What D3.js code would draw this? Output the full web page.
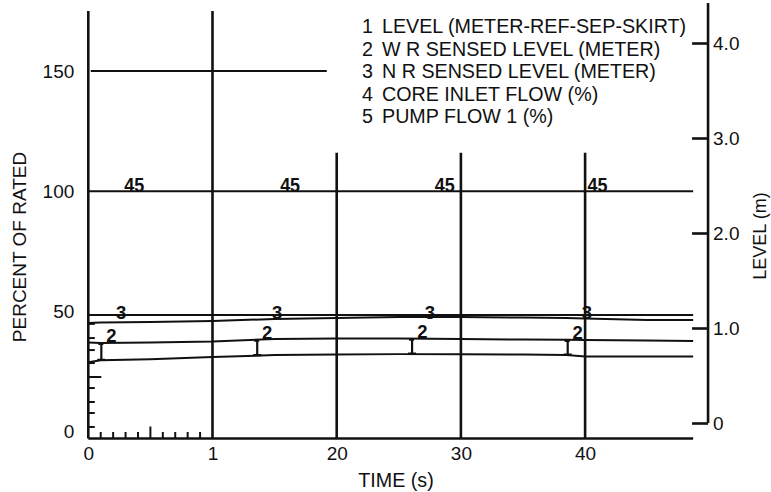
<!DOCTYPE html>
<html><head><meta charset="utf-8">
<script src="https://cdn.jsdelivr.net/npm/d3@7"></script>
<style>
body{margin:0;background:#fff}
svg text{font-family:"Liberation Sans",Arial,Helvetica,sans-serif}
</style>
</head><body>
<svg id="c" width="771" height="492"></svg>
<script>
// ---- data ----
const time = [0, 1, 5, 10, 15, 20, 25, 30, 35, 38.5, 40, 45, 48.7];
// level traces (m, right axis)
const level1 = [0.64, 0.66, 0.67, 0.695, 0.715, 0.72, 0.725, 0.725, 0.72, 0.715, 0.70, 0.70, 0.70];
const level2 = [0.847, 0.842, 0.847, 0.858, 0.884, 0.889, 0.889, 0.884, 0.879, 0.876, 0.874, 0.868, 0.863];
const level3 = [1.137, 1.137, 1.137, 1.137, 1.137, 1.137, 1.137, 1.137, 1.137, 1.137, 1.137, 1.137, 1.137];
const levelX = [1.053, 1.058, 1.063, 1.074, 1.095, 1.105, 1.116, 1.116, 1.11, 1.105, 1.10, 1.084, 1.084];
// flow traces (% of rated, left axis)
const flowTime = [0, 48.7];
const flow45 = [100, 100];
const highTime = [0.2, 19.2];
const high150 = [150, 150];
// label positions (s)
const mark1Times = [1.05, 13.6, 26.07, 38.6];
const mark2Times = [1.85, 14.4, 26.9, 39.4];
const mark3Times = [2.65, 15.2, 27.5, 40.15];
const mark45Times = [3.7, 16.25, 28.7, 41.0];
// axes
const xTicks = [0, 10, 20, 30, 40];
const xTickLabels = ["0", "1", "20", "30", "40"];
const leftTicks = [0, 50, 100, 150];
const rightTicks = [0, 1, 2, 3, 4];
const minorTimeTicks = [1, 2, 3, 4, 5, 6, 7, 8, 9];
const minorPctTicks = [1.9, 7.7, 12.3, 18.1, 22.7, 28.5, 33.9, 38.9, 44.8];
const gridTimes = [10, 20, 30, 40];
const gridTops = [175, 116, 116, 116];
const legendNums = ["1", "2", "3", "4", "5"];
const legendLabels = ["LEVEL (METER-REF-SEP-SKIRT)", "W R SENSED LEVEL (METER)", "N R SENSED LEVEL (METER)", "CORE INLET FLOW (%)", "PUMP FLOW 1 (%)"];

// ---- scales ----
const svg = d3.select("#c");
const x = d3.scaleLinear([0, 50], [88.3, 709.3]);
const yL = d3.scaleLinear([-2.9, 175], [438.5, 11]);
const yR = d3.scaleLinear([0, 4], [423, 43]);
const xEnd = 48.7, xRight = 49.9, rightTop = 4.42;

const ink = "#111";
// vertical grid lines
svg.append("g").selectAll("line").data(gridTimes).join("line")
  .attr("x1", d => x(d)).attr("x2", d => x(d))
  .attr("y1", (d, i) => yL(gridTops[i])).attr("y2", yL(-2.9))
  .attr("stroke", ink).attr("stroke-width", 2.6);

// left axis line
svg.append("line").attr("x1", x(0)).attr("x2", x(0)).attr("y1", yL(175)).attr("y2", yL(-2.9))
  .attr("stroke", ink).attr("stroke-width", 2.6);
// bottom axis line
svg.append("line").attr("x1", x(0)).attr("x2", x(xEnd)).attr("y1", yL(-2.9)).attr("y2", yL(-2.9))
  .attr("stroke", ink).attr("stroke-width", 2.6);
// right axis line
svg.append("line").attr("x1", x(xRight)).attr("x2", x(xRight)).attr("y1", yR(rightTop)).attr("y2", yR(0))
  .attr("stroke", ink).attr("stroke-width", 2.6);

// minor ticks
svg.append("g").selectAll("line").data(minorTimeTicks).join("line")
  .attr("x1", d => x(d)).attr("x2", d => x(d))
  .attr("y1", yL(-2.9)).attr("y2", d => yL(-2.9) - (d === 5 ? 12 : 6.5))
  .attr("stroke", ink).attr("stroke-width", 2);
svg.append("g").selectAll("line").data(minorPctTicks).join("line")
  .attr("y1", d => yL(d)).attr("y2", d => yL(d))
  .attr("x1", x(0)).attr("x2", (d) => x(0) + (d === 22.7 ? 13 : 6.5))
  .attr("stroke", ink).attr("stroke-width", 2);

// axes labels via d3 axes
const fs = 19;
const gL = svg.append("g").attr("transform", `translate(${x(0)},0)`)
  .call(d3.axisLeft(yL).tickValues(leftTicks).tickSize(0).tickPadding(14));
const gB = svg.append("g").attr("transform", `translate(0,${yL(-2.9)})`)
  .call(d3.axisBottom(x).tickValues(xTicks).tickFormat((d, i) => xTickLabels[i]).tickSize(0).tickPadding(8));
const gR = svg.append("g").attr("transform", `translate(${x(xRight)},0)`)
  .call(d3.axisRight(yR).tickValues(rightTicks).tickFormat(d => d === 0 ? "0" : d3.format(".1f")(d)).tickSize(-16).tickPadding(5));
[gL, gB, gR].forEach(g => {
  g.select(".domain").remove();
  g.attr("font-size", fs).attr("font-family", '"Liberation Sans",Arial,sans-serif');
  g.selectAll("text").attr("fill", ink);
  g.selectAll(".tick line").attr("stroke", ink).attr("stroke-width", 2.6);
});

// traces
const lineR = (vals, ts) => d3.line().x((d, i) => x(ts[i])).y(d => yR(d))(vals);
const lineL = (vals, ts) => d3.line().x((d, i) => x(ts[i])).y(d => yL(d))(vals);
[level1, level2, level3, levelX].forEach(s => {
  svg.append("path").attr("d", lineR(s, time)).attr("fill", "none").attr("stroke", ink).attr("stroke-width", 2);
});
svg.append("path").attr("d", lineL(flow45, flowTime)).attr("fill", "none").attr("stroke", ink).attr("stroke-width", 2);
svg.append("path").attr("d", lineL(high150, highTime)).attr("fill", "none").attr("stroke", ink).attr("stroke-width", 2);

// series markers
const f1 = d3.scaleLinear(time, level1), f2 = d3.scaleLinear(time, level2), f3 = d3.scaleLinear(time, level3);
const m1 = svg.append("g").attr("stroke", ink).attr("stroke-width", 2.2).attr("fill", "none");
mark1Times.forEach(t => {
  const px = x(t), ya = yR(f2(t)), yb = yR(f1(t));
  m1.append("path").attr("d", `M${px},${ya} L${px},${yb} M${px - 3},${ya + 1} L${px + 2},${ya + 1} M${px - 4},${yb - 0.5} L${px + 4},${yb - 0.5}`);
});
const markFont = '"DejaVu Sans",sans-serif';
svg.append("g").selectAll("text").data(mark2Times).join("text")
  .attr("x", d => x(d)).attr("y", d => yR(f2(d)) - 0.5).attr("text-anchor", "middle")
  .attr("font-family", markFont).attr("font-weight", "bold").attr("font-size", 18.5).attr("fill", ink).text("2");
svg.append("g").selectAll("text").data(mark3Times).join("text")
  .attr("x", d => x(d)).attr("y", d => yR(f3(d)) + 4).attr("text-anchor", "middle")
  .attr("font-family", markFont).attr("font-weight", "bold").attr("font-size", 18.5).attr("fill", ink).text("3");
svg.append("g").selectAll("text").data(mark45Times).join("text")
  .attr("x", d => x(d) - 10).attr("y", yL(100) + 1)
  .attr("font-family", '"DejaVu Sans Condensed","DejaVu Sans",sans-serif').attr("font-weight", "bold")
  .attr("font-size", 21).attr("textLength", 20).attr("lengthAdjust", "spacingAndGlyphs").attr("fill", ink).text("45");

// legend
const leg = svg.append("g").attr("font-size", 19.7).attr("fill", ink);
legendNums.forEach((n, i) => {
  const yy = 33 + i * 22.6;
  leg.append("text").attr("x", 362).attr("y", yy).text(n);
  leg.append("text").attr("x", 382).attr("y", yy).text(legendLabels[i]);
});

// axis titles
svg.append("text").attr("transform", "translate(26,247) rotate(-90)").attr("text-anchor", "middle")
  .attr("font-size", fs).attr("fill", ink).text("PERCENT OF RATED");
svg.append("text").attr("transform", "translate(766,236) rotate(-90)").attr("text-anchor", "middle")
  .attr("font-size", 18).attr("fill", ink).text("LEVEL (m)");
svg.append("text").attr("x", 396).attr("y", 487).attr("text-anchor", "middle")
  .attr("font-size", 19.7).attr("fill", ink).text("TIME (s)");
</script>
</body></html>
